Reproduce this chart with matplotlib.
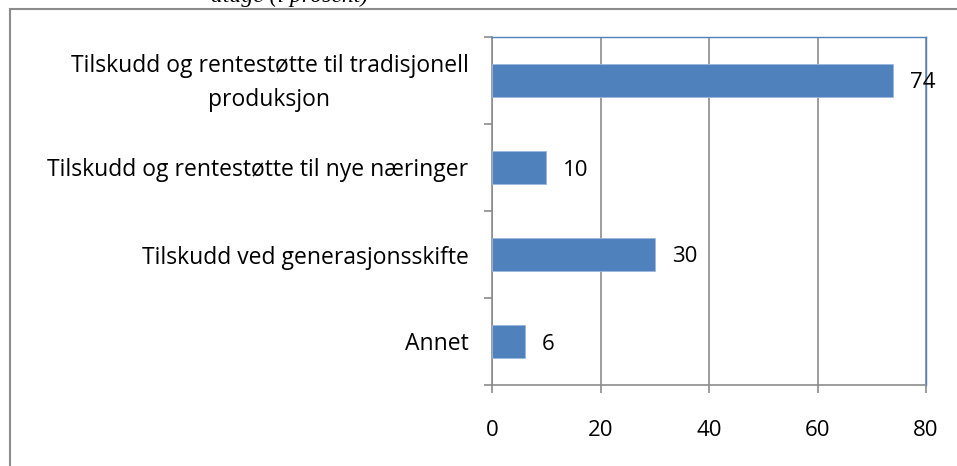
import matplotlib.pyplot as plt
import matplotlib.transforms as mtransforms
from matplotlib.patches import Rectangle

categories = ['Tilskudd og rentestøtte til tradisjonell\nproduksjon',
              'Tilskudd og rentestøtte til nye næringer',
              'Tilskudd ved generasjonsskifte',
              'Annet']
values = [74, 10, 30, 6]
xticks = [0, 20, 40, 60, 80]

W, H = 957, 466
fig = plt.figure(figsize=(W / 100, H / 100), dpi=100)
plt.rcParams['font.family'] = ['Open Sans', 'DejaVu Sans']

# outer frame, clipped by the image on right and bottom
fig.patches.append(Rectangle((10 / W, -0.1), 1.2, (H - 9) / H + 0.1,
                             transform=fig.transFigure, fill=False,
                             edgecolor='#8c8c8c', linewidth=1.5))

# caption cut off at the very top, as in the source
fig.text(290 / W, 1 - 2 / H, 'atage (i prosent)', ha='center', va='baseline',
         family='Liberation Serif', style='italic', fontsize=17)

ax = fig.add_axes([492 / W, 1 - 385 / H, (926 - 492) / W, (385 - 37) / H])
pos = list(range(len(categories)))[::-1]
ax.barh(pos, values, height=0.39, color='#4F81BD', edgecolor='#9bb8de',
        linewidth=0.6, zorder=3)
for p, v in zip(pos, values):
    ax.text(v + 3.1, p, str(v), va='center_baseline', ha='left', fontsize=16,
            color='black', zorder=4)

ax.set_xlim(0, 80)
ax.set_ylim(-0.5, len(categories) - 0.5)
ax.set_xticks(xticks)
ax.set_xticklabels([str(t) for t in xticks], fontsize=16)
ax.set_yticks(pos)
ax.set_yticklabels(categories, fontsize=16.5, ha='right',
                   multialignment='center', linespacing=1.6)
ax.tick_params(axis='y', length=0, pad=17)

# nudge the two-line label up a little
up = mtransforms.ScaledTranslation(0, 6 / 100, fig.dpi_scale_trans)
for lab in ax.get_yticklabels():
    if '\n' in lab.get_text():
        lab.set_transform(lab.get_transform() + up)

# category boundary ticks on the y axis
ax.set_yticks([i - 0.5 for i in range(len(categories) + 1)], minor=True)
ax.tick_params(axis='y', which='minor', length=6, color='#8c8c8c', width=1.2)
ax.tick_params(axis='x', length=6, color='#8c8c8c', width=1.2, pad=19)

ax.grid(axis='x', color='#8c8c8c', linewidth=1.2, zorder=0)
ax.set_axisbelow(True)
for s in ['left', 'bottom']:
    ax.spines[s].set_color('#8c8c8c')
    ax.spines[s].set_linewidth(1.2)
for s in ['top', 'right']:
    ax.spines[s].set_color('#4F81BD')
    ax.spines[s].set_linewidth(1.0)

fig.savefig('out.png', dpi=100)
